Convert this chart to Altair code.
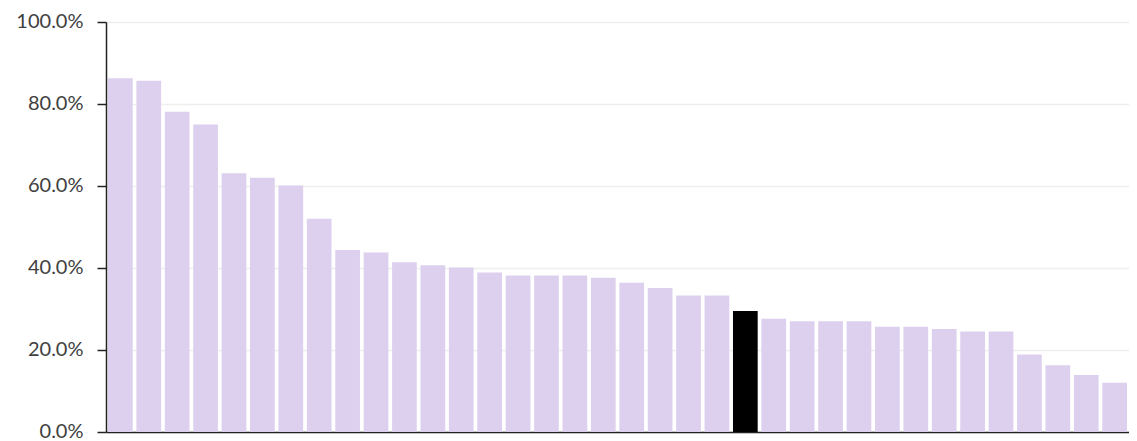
import altair as alt
import pandas as pd

categories = [f"C{i:02d}" for i in range(1, 37)]
values = [86.3, 85.7, 78.1, 75.0, 63.1, 62.0, 60.1, 52.0, 44.4, 43.8,
          41.4, 40.7, 40.1, 38.9, 38.2, 38.2, 38.2, 37.6, 36.4, 35.1,
          33.3, 33.3, 29.5, 27.6, 27.0, 27.0, 27.0, 25.7, 25.7, 25.1,
          24.5, 24.5, 18.9, 16.3, 13.9, 12.0]
highlight = ["C23"]

df = pd.DataFrame({
    "cat": categories,
    "value": [v / 100 for v in values],
    "hl": ["yes" if c in highlight else "no" for c in categories],
})

chart = alt.Chart(df).mark_bar().encode(
    x=alt.X("cat:N", sort=None,
            scale=alt.Scale(paddingInner=0.13, paddingOuter=0.07),
            axis=alt.Axis(title=None, labels=False, ticks=False,
                          domainColor="#222222", domainWidth=1.5, grid=False)),
    y=alt.Y("value:Q",
            scale=alt.Scale(domain=[0, 1]),
            axis=alt.Axis(title=None, format=".1%", values=[0, 0.2, 0.4, 0.6, 0.8, 1.0],
                          labelFont="Lato", labelFontSize=20, labelColor="#404040",
                          labelPadding=14, labelOffset=-1, tickSize=9, tickColor="#222222",
                          tickWidth=1.5, domainColor="#222222", domainWidth=1.5,
                          grid=True, gridColor="#EEEEEE", gridWidth=1.5)),
    color=alt.Color("hl:N", legend=None,
                    scale=alt.Scale(domain=["no", "yes"], range=["#DDD0EE", "#000000"])),
).properties(
    width=1023, height=410,
    autosize=alt.AutoSizeParams(type="none"),
    padding={"left": 98, "top": 14, "right": 0, "bottom": 12},
).configure_view(stroke=None)

chart.save("out.html", embed_options={"renderer": "svg", "actions": False})
